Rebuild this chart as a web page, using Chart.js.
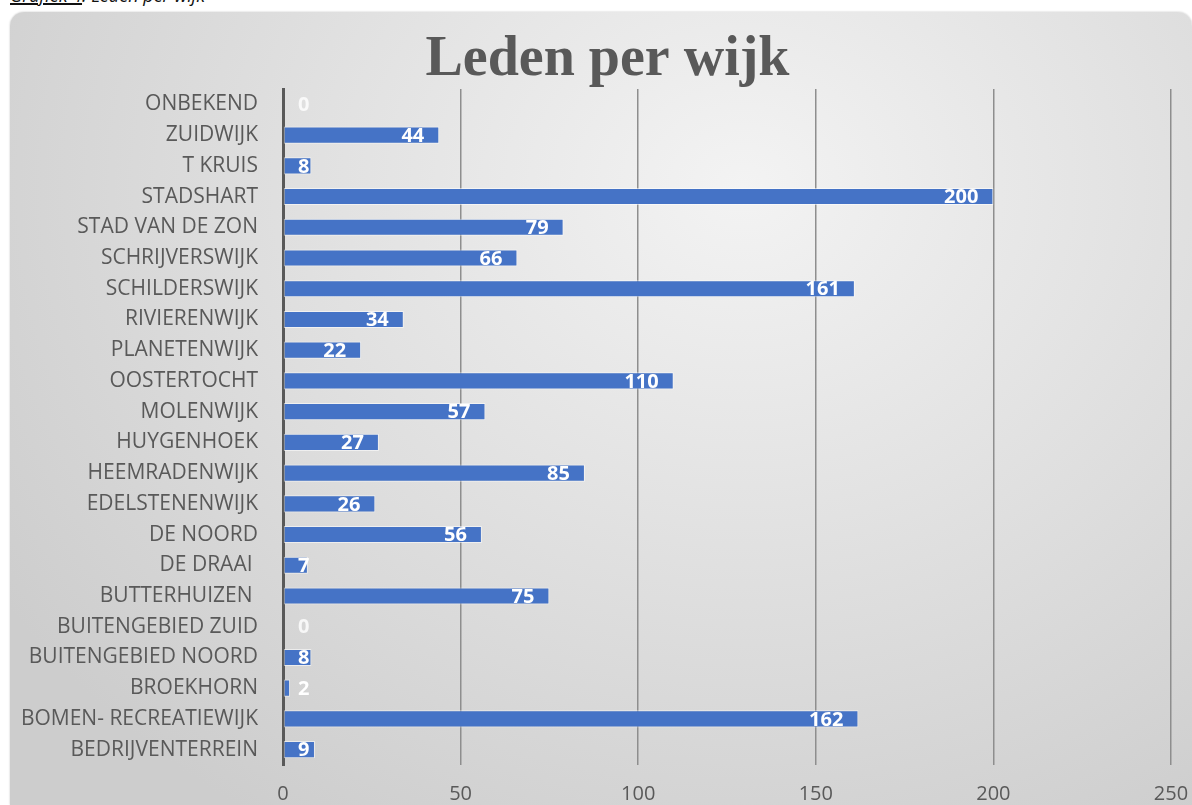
<!DOCTYPE html>
<html>
<head>
<meta charset="utf-8">
<script src="https://cdn.jsdelivr.net/npm/chart.js@4/dist/chart.umd.min.js"></script>
<style>
  html, body { margin: 0; padding: 0; background: #fff; width: 1192px; height: 805px; overflow: hidden; }
  #caption {
    position: absolute; left: 10px; top: -17px;
    font: italic 18px "Open Sans", sans-serif; color: #111; white-space: nowrap;
  }
  #caption u { text-decoration-thickness: 2px; }
  #panel {
    position: absolute; left: 10px; top: 12px; width: 1182px; height: 793px;
    border-radius: 14px 14px 0 0;
    background: radial-gradient(ellipse 75% 95% at 62% 22%, #f3f3f3 0%, #e2e2e2 45%, #cdcdcd 100%);
    box-shadow: 0 0 2px rgba(0,0,0,0.25);
  }
  #chart { position: absolute; left: 0; top: 0; }
</style>
</head>
<body>
<div id="caption"><u>Grafiek 4</u>: Leden per wijk</div>
<div id="panel"><canvas id="chart" width="1182" height="793"></canvas></div>
<script>
// ─────────────────────────────────────────
// DATA
// ─────────────────────────────────────────
const TITLE = 'Leden per wijk';
const WIJKEN = [
  'ONBEKEND', 'ZUIDWIJK', 'T KRUIS', 'STADSHART', 'STAD VAN DE ZON',
  'SCHRIJVERSWIJK', 'SCHILDERSWIJK', 'RIVIERENWIJK', 'PLANETENWIJK', 'OOSTERTOCHT',
  'MOLENWIJK', 'HUYGENHOEK', 'HEEMRADENWIJK', 'EDELSTENENWIJK', 'DE NOORD',
  'DE DRAAI ', 'BUTTERHUIZEN ', 'BUITENGEBIED ZUID', 'BUITENGEBIED NOORD', 'BROEKHORN',
  'BOMEN- RECREATIEWIJK', 'BEDRIJVENTERREIN',
];
const LEDEN = [0, 44, 8, 200, 79, 66, 161, 34, 22, 110, 57, 27, 85, 26, 56, 7, 75, 0, 8, 2, 162, 9];
const X_TICKS = [0, 50, 100, 150, 200, 250];

const COLORS = {
  bar: '#4573c6',
  text: '#595959',
  grid: '#8e8e8e',
  axis: '#595959',
};

// ─────────────────────────────────────────
// VALUE LABELS — white, inside the bar end
// ─────────────────────────────────────────
const valueLabels = {
  id: 'valueLabels',
  afterLayout(chart) {
    // title sits a little right of the canvas centre in the original
    if (chart.titleBlock) chart.titleBlock.left += 34;
  },
  afterDatasetsDraw(chart) {
    const { ctx } = chart;
    const meta = chart.getDatasetMeta(0);
    const x0 = chart.scales.x.getPixelForValue(0);
    ctx.save();
    ctx.font = 'bold 20px "Open Sans", sans-serif';
    ctx.textBaseline = 'middle';
    ctx.textAlign = 'left';
    meta.data.forEach((bar, i) => {
      const txt = String(LEDEN[i]);
      const w = ctx.measureText(txt).width;
      const x = Math.max(bar.x - 15 - w, x0 + 15);
      ctx.fillStyle = LEDEN[i] === 0 ? 'rgba(255,255,255,0.8)' : '#ffffff';
      ctx.fillText(txt, x, bar.y + 1);
    });
    ctx.restore();
  },
};

// ─────────────────────────────────────────
// CHART
// ─────────────────────────────────────────
new Chart(document.getElementById('chart'), {
  type: 'bar',
  data: {
    labels: WIJKEN,
    datasets: [{
      data: LEDEN,
      backgroundColor: COLORS.bar,
      borderColor: 'rgba(255,255,255,0.55)',
      borderWidth: 1,
      borderSkipped: false,
      barPercentage: 0.62,
      categoryPercentage: 0.9,
    }],
  },
  options: {
    indexAxis: 'y',
    responsive: false,
    animation: false,
    layout: { padding: { left: 0, right: 21, top: 0, bottom: 0 } },
    plugins: {
      legend: { display: false },
      tooltip: { enabled: false },
      title: {
        display: true,
        text: TITLE,
        color: COLORS.text,
        font: { family: '"Liberation Serif", serif', size: 56, weight: 'bold', lineHeight: 1 },
        padding: { top: 21, bottom: 0 },
      },
    },
    scales: {
      x: {
        min: 0,
        max: 250,
        afterBuildTicks: (s) => { s.ticks = X_TICKS.map(v => ({ value: v })); },
        ticks: {
          color: COLORS.text,
          font: { family: '"Open Sans", sans-serif', size: 20 },
          padding: 17,
        },
        grid: { color: COLORS.grid, lineWidth: 1.5, drawTicks: false },
        border: { display: false },
        afterFit: (s) => {
          s.height = 40;
          s.paddingLeft = 0;
          s.paddingRight = 0;
        },
      },
      y: {
        ticks: {
          color: COLORS.text,
          font: { family: '"Open Sans", sans-serif', size: 21 },
          padding: 25,
          autoSkip: false,
        },
        grid: { display: false, drawTicks: false },
        border: { display: true, color: COLORS.axis, width: 3 },
        afterFit: (s) => { s.width = 273; },
      },
    },
  },
  plugins: [valueLabels],
});
</script>
</body>
</html>
